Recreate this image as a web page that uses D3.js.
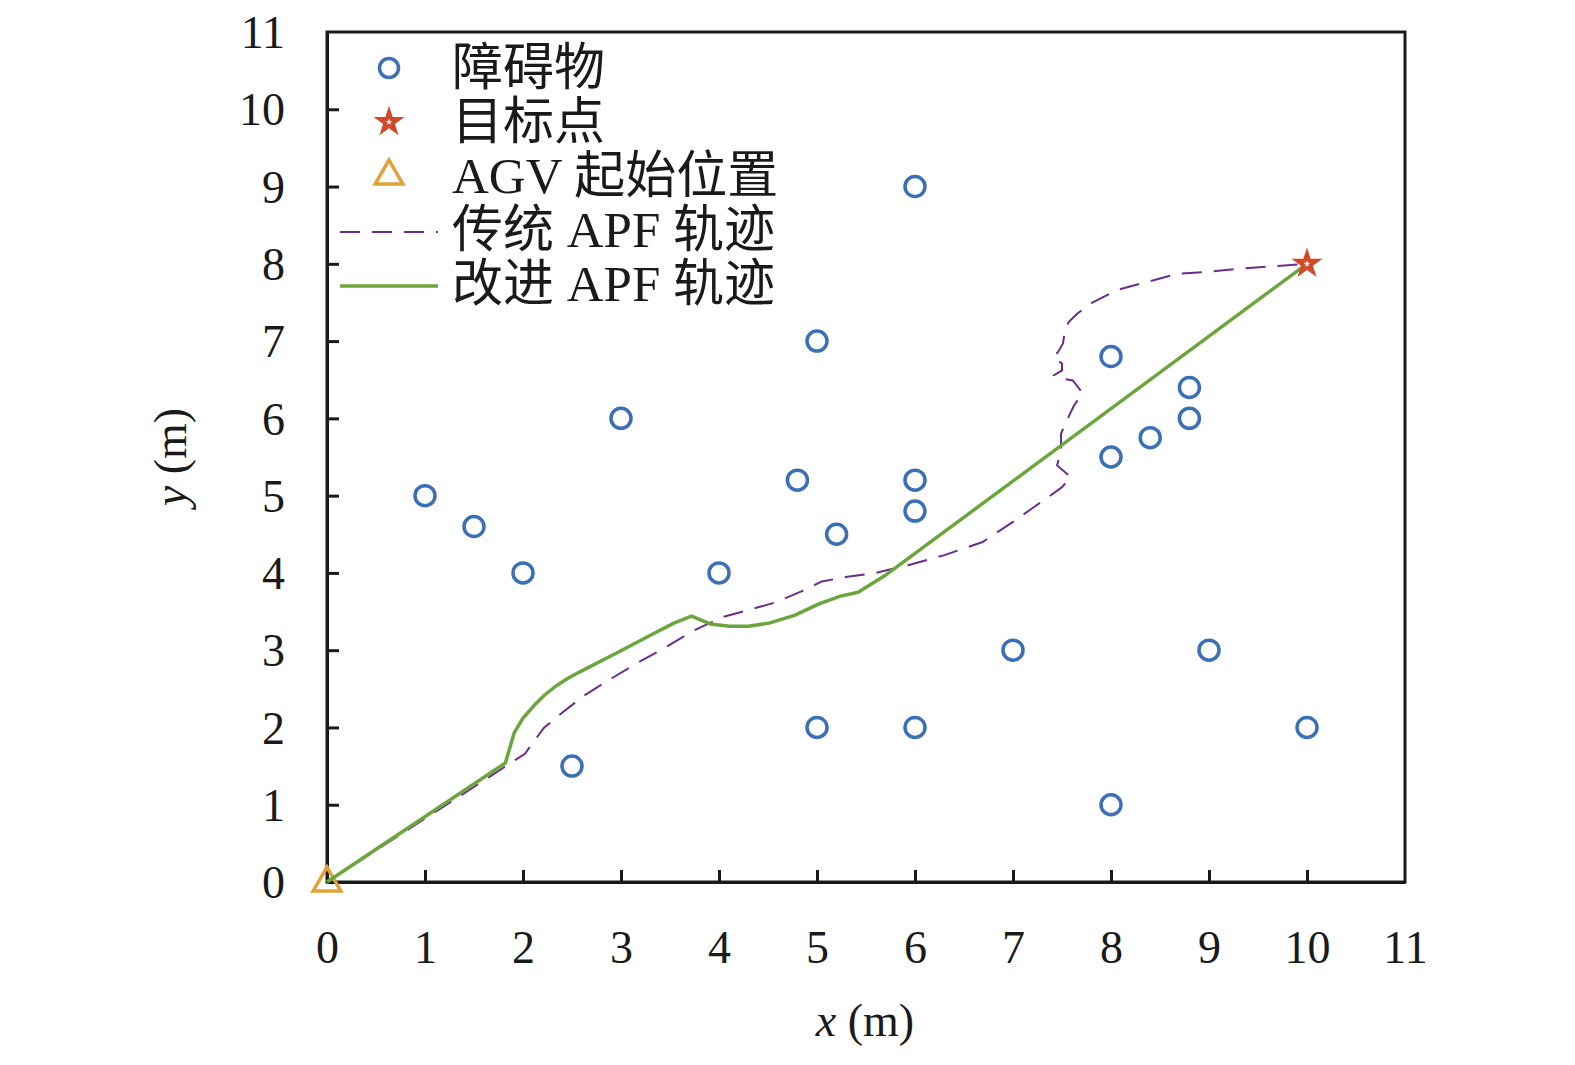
<!DOCTYPE html>
<html><head><meta charset="utf-8">
<script src="https://cdn.jsdelivr.net/npm/d3@7"></script>
<style>
html,body{margin:0;padding:0;background:#fff;}
svg{display:block;}
</style></head>
<body>
<svg id="chart" width="1575" height="1065"></svg>
<script>
// ---------- data ----------
const obstacleX = [1, 1.5, 2, 2.5, 3, 4, 4.8, 5, 5.2, 5, 6, 6, 6, 6, 7, 8, 8, 8, 8.4, 8.8, 8.8, 9, 10];
const obstacleY = [5, 4.6, 4, 1.5, 6, 4, 5.2, 7, 4.5, 2, 9, 5.2, 4.8, 2, 3, 6.8, 5.5, 1, 5.75, 6.4, 6, 3, 2];
const goal = [10, 8];
const start = [0, 0];

const apfX = [0, 1.67, 1.85, 2.02, 2.21, 2.37, 2.62, 2.91, 3.16, 3.46, 3.75, 4.04, 4.33, 4.58, 4.84, 5.05, 5.31, 5.60, 5.93, 6.30, 6.69, 7.0, 7.2, 7.36, 7.50, 7.59, 7.45, 7.49, 7.49, 7.54, 7.62, 7.71, 7.61, 7.48, 7.42, 7.50, 7.50, 7.41, 7.46, 7.51, 7.53, 7.57, 7.66, 7.80, 8.06, 8.38, 8.68, 9.01, 9.34, 9.67, 10];
const apfY = [0, 1.37, 1.52, 1.66, 1.99, 2.16, 2.41, 2.64, 2.83, 3.04, 3.26, 3.43, 3.53, 3.62, 3.76, 3.89, 3.95, 4.00, 4.10, 4.23, 4.40, 4.66, 4.84, 4.98, 5.11, 5.24, 5.39, 5.59, 5.80, 5.95, 6.16, 6.33, 6.49, 6.52, 6.56, 6.62, 6.71, 6.79, 6.86, 6.97, 7.14, 7.25, 7.36, 7.49, 7.66, 7.77, 7.87, 7.90, 7.94, 7.97, 8];

const impX = [0, 1.82, 1.91, 2.0, 2.11, 2.22, 2.33, 2.45, 2.58, 2.95, 3.31, 3.54, 3.72, 3.91, 4.11, 4.30, 4.51, 4.77, 5.02, 5.24, 5.42, 5.71, 10];
const impY = [0, 1.54, 1.93, 2.12, 2.28, 2.42, 2.53, 2.63, 2.72, 2.96, 3.20, 3.35, 3.44, 3.34, 3.31, 3.31, 3.35, 3.45, 3.60, 3.70, 3.75, 3.98, 8];

const xTicks = [0, 1, 2, 3, 4, 5, 6, 7, 8, 9, 10, 11];
const yTicks = [0, 1, 2, 3, 4, 5, 6, 7, 8, 9, 10, 11];
const legendLabels = ["障碍物", "目标点", "AGV 起始位置", "传统 APF 轨迹", "改进 APF 轨迹"];

// ---------- layout ----------
const L = 327, R = 1405, T = 32, B = 882;
const C_OBS = "#3b6fb6", C_GOAL = "#d2492a", C_START = "#e2a23a", C_APF = "#6b2d8c", C_IMP = "#6aa63c";
const SERIF = "'Liberation Serif','Times New Roman',serif";
const CJK = "'Liberation Serif','Noto Sans CJK SC',serif";

const svg = d3.select("#chart");
const x = d3.scaleLinear().domain([0, 11]).range([L, R]);
const y = d3.scaleLinear().domain([0, 11]).range([B, T]);

// frame
svg.append("rect").attr("x", L).attr("y", T).attr("width", R - L).attr("height", B - T)
  .attr("fill", "none").attr("stroke", "#1a1a1a").attr("stroke-width", 3);

// axes (inward ticks)
const xAxis = d3.axisBottom(x).tickValues(xTicks).tickSizeInner(-12).tickSizeOuter(0).tickPadding(36).tickFormat(d3.format("d"));
const gx = svg.append("g").attr("transform", `translate(0,${B})`).call(xAxis);
const yAxis = d3.axisLeft(y).tickValues(yTicks).tickSizeInner(-12).tickSizeOuter(0).tickPadding(42).tickFormat(d3.format("d"));
const gy = svg.append("g").attr("transform", `translate(${L},0)`).call(yAxis);
[gx, gy].forEach(g => {
  g.select(".domain").attr("stroke", "#1a1a1a").attr("stroke-width", 3);
  g.selectAll(".tick line").attr("stroke", "#1a1a1a").attr("stroke-width", 3);
  g.selectAll(".tick text").attr("font-family", SERIF).attr("font-size", 46).attr("fill", "#1a1a1a");
});
gx.selectAll(".tick text").attr("dy", "0.71em").attr("y", 48);
gy.selectAll(".tick text").attr("dy", "0.34em");
gx.selectAll(".tick").filter(d => d === 0 || d === 11).select("line").remove();
gy.selectAll(".tick").filter(d => d === 0 || d === 11).select("line").remove();

// axis titles
const xt = svg.append("text").attr("x", 865).attr("y", 1036).attr("text-anchor", "middle")
  .attr("font-family", SERIF).attr("font-size", 46).attr("fill", "#1a1a1a");
xt.append("tspan").attr("font-style", "italic").text("x");
xt.append("tspan").text(" (m)");
const yt = svg.append("text").attr("transform", `translate(186,457) rotate(-90)`).attr("text-anchor", "middle")
  .attr("font-family", SERIF).attr("font-size", 46).attr("fill", "#1a1a1a");
yt.append("tspan").attr("font-style", "italic").text("y");
yt.append("tspan").text(" (m)");

// obstacles
const obs = obstacleX.map((d, i) => [d, obstacleY[i]]);
svg.append("g").selectAll("circle").data(obs).join("circle")
  .attr("cx", d => x(d[0])).attr("cy", d => y(d[1])).attr("r", 10)
  .attr("fill", "none").attr("stroke", C_OBS).attr("stroke-width", 3.5);

const line = d3.line().x(d => x(d[0])).y(d => y(d[1]));
// traditional APF
svg.append("path").datum(apfX.map((d, i) => [d, apfY[i]])).attr("d", line)
  .attr("fill", "none").attr("stroke", C_APF).attr("stroke-width", 2).attr("stroke-dasharray", "20,12");

// start triangle
const tri = d3.symbol().type(d3.symbolTriangle).size(330);
svg.append("path").attr("d", tri()).attr("transform", `translate(${x(start[0])},${y(start[1]) + 1})`)
  .attr("fill", "none").attr("stroke", C_START).attr("stroke-width", 3.5);

// improved APF
svg.append("path").datum(impX.map((d, i) => [d, impY[i]])).attr("d", line)
  .attr("fill", "none").attr("stroke", C_IMP).attr("stroke-width", 3.5).attr("stroke-linejoin", "round");

// goal star
const star = d3.symbol().type(d3.symbolStar);
function drawStar(cx, cy) {
  svg.append("path").attr("d", star.size(300)()).attr("transform", `translate(${cx},${cy})`).attr("fill", C_GOAL);
  svg.append("path").attr("d", star.size(14)()).attr("transform", `translate(${cx},${cy})`).attr("fill", "#fff");
}
drawStar(x(goal[0]), y(goal[1]));

// legend
const rowsY = [68, 122, 176, 230, 284];
const lx = 389, tx = 452;
svg.append("circle").attr("cx", lx).attr("cy", rowsY[0]).attr("r", 9.5).attr("fill", "none").attr("stroke", C_OBS).attr("stroke-width", 3.5);
drawStar(lx, rowsY[1]);
svg.append("path").attr("d", tri()).attr("transform", `translate(${lx},${rowsY[2]})`).attr("fill", "none").attr("stroke", C_START).attr("stroke-width", 3.5);
svg.append("line").attr("x1", 340).attr("x2", 438).attr("y1", rowsY[3] + 2).attr("y2", rowsY[3] + 2)
  .attr("stroke", C_APF).attr("stroke-width", 2).attr("stroke-dasharray", "20,12");
svg.append("line").attr("x1", 340).attr("x2", 438).attr("y1", rowsY[4] + 2).attr("y2", rowsY[4] + 2)
  .attr("stroke", C_IMP).attr("stroke-width", 3.5);
legendLabels.forEach((t, i) => {
  svg.append("text").attr("x", tx).attr("y", rowsY[i] + 17).attr("font-family", CJK).attr("font-size", 51)
    .attr("fill", "#1a1a1a").text(t);
});
</script>
</body></html>
